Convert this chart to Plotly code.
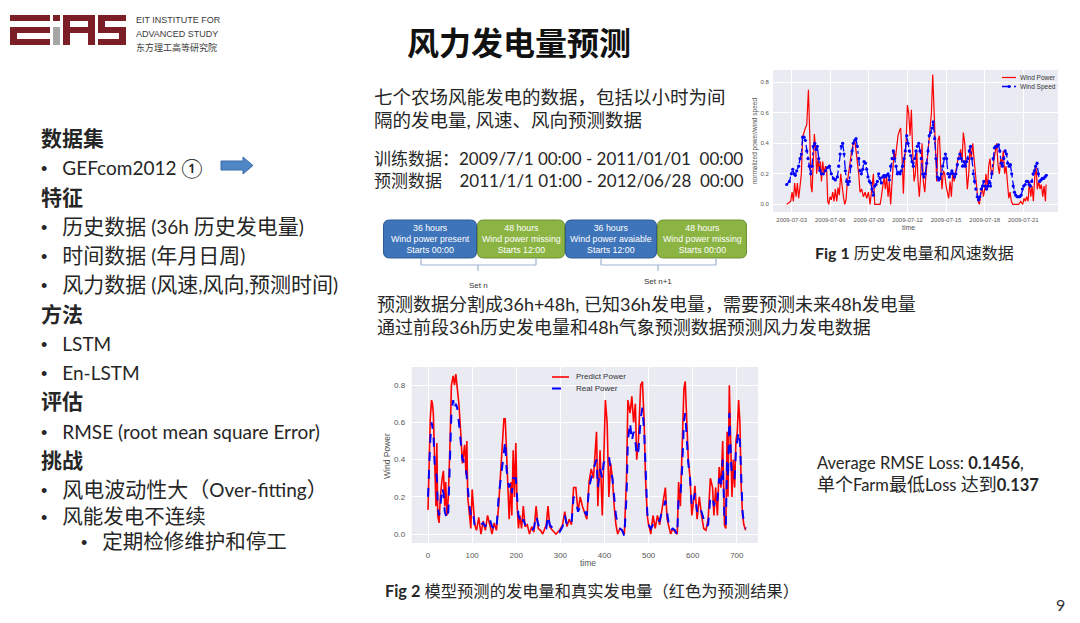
import re
import numpy as np
import pandas as pd
import plotly.graph_objects as go

# figure size (page body has an 8px margin, so the figure is inset by 8px)
OFF = 8
W, H = 1064, 607


def px(x):
    return (x - OFF) / W


def py(y):
    return 1 - (y - OFF) / H


# ---------------- DATA ----------------
# Fig 1: historical wind power / wind speed (day-of-July 2009, value)
power_day = [
    2.61, 2.82, 2.92, 3.03, 3.13, 3.23, 3.34, 3.44, 3.54, 3.65,
    3.75, 3.85, 3.96, 4.06, 4.17, 4.30, 4.42, 4.50, 4.58, 4.68,
    4.76, 4.87, 4.94, 5.05, 5.12, 5.23, 5.31, 5.41, 5.51, 5.62,
    5.72, 5.80, 5.88, 5.98, 6.08, 6.19, 6.29, 6.39, 6.50, 6.60,
    6.70, 6.81, 6.91, 7.02, 7.12, 7.22, 7.33, 7.43, 7.53, 7.66,
    7.79, 7.90, 8.00, 8.10, 8.21, 8.31, 8.44, 8.57, 8.70, 8.83,
    8.96, 9.09, 9.22, 9.35, 9.45, 9.61, 9.74, 9.87, 9.97, 10.07,
    10.18, 10.28, 10.38, 10.49, 10.59, 10.69, 10.85, 10.95, 11.06, 11.16,
    11.26, 11.37, 11.47, 11.58, 11.68, 11.78, 11.89, 11.99, 12.09, 12.20,
    12.30, 12.40, 12.51, 12.61, 12.72, 12.82, 12.92, 13.03, 13.13, 13.23,
    13.34, 13.44, 13.54, 13.65, 13.75, 13.86, 13.96, 14.06, 14.17, 14.27,
    14.37, 14.48, 14.58, 14.68, 14.79, 14.89, 15.00, 15.10, 15.20, 15.31,
    15.41, 15.51, 15.62, 15.72, 15.82, 15.93, 16.03, 16.13, 16.24, 16.34,
    16.45, 16.55, 16.65, 16.76, 16.86, 16.96, 17.07, 17.17, 17.27, 17.38,
    17.48, 17.59, 17.69, 17.79, 17.90, 18.00, 18.10, 18.21, 18.31, 18.41,
    18.52, 18.62, 18.73, 18.83, 18.93, 19.04, 19.14, 19.24, 19.35, 19.45,
    19.55, 19.66, 19.76, 19.87, 19.97, 20.07, 20.18, 20.33, 20.49, 20.64,
    20.80, 20.95, 21.06, 21.16, 21.26, 21.37, 21.47, 21.58, 21.68, 21.78,
    21.89, 21.99, 22.09, 22.20, 22.30, 22.40, 22.51, 22.61, 22.72, 22.77,
]
wind_power = [
    0.00, 0.01, 0.02, 0.08, 0.02, 0.14, 0.05, 0.14, 0.04, 0.12,
    0.20, 0.44, 0.48, 0.50, 0.52, 0.75, 0.40, 0.12, 0.08, 0.30,
    0.46, 0.35, 0.20, 0.30, 0.22, 0.28, 0.15, 0.28, 0.20, 0.25,
    0.22, 0.02, 0.00, 0.05, 0.03, 0.08, 0.02, 0.10, 0.02, 0.11,
    0.06, 0.20, 0.12, 0.05, 0.00, 0.03, 0.15, 0.22, 0.30, 0.35,
    0.40, 0.42, 0.35, 0.28, 0.20, 0.08, 0.10, 0.05, 0.08, 0.04,
    0.08, 0.00, 0.10, 0.20, 0.00, 0.00, 0.00, 0.00, 0.05, 0.12,
    0.18, 0.10, 0.18, 0.05, 0.15, 0.00, 0.22, 0.35, 0.30, 0.38,
    0.45, 0.48, 0.50, 0.30, 0.07, 0.30, 0.40, 0.65, 0.60, 0.45,
    0.62, 0.35, 0.15, 0.20, 0.35, 0.15, 0.05, 0.20, 0.40, 0.15,
    0.08, 0.20, 0.30, 0.42, 0.50, 0.60, 0.85, 0.60, 0.30, 0.15,
    0.42, 0.45, 0.25, 0.10, 0.22, 0.20, 0.12, 0.08, 0.04, 0.15,
    0.05, 0.20, 0.15, 0.20, 0.25, 0.30, 0.32, 0.36, 0.28, 0.47,
    0.40, 0.20, 0.10, 0.20, 0.38, 0.30, 0.40, 0.30, 0.20, 0.10,
    0.02, 0.00, 0.05, 0.12, 0.05, 0.10, 0.20, 0.10, 0.25, 0.30,
    0.20, 0.20, 0.30, 0.35, 0.40, 0.25, 0.20, 0.30, 0.27, 0.35,
    0.20, 0.25, 0.12, 0.04, 0.08, 0.02, 0.00, 0.00, 0.00, 0.00,
    0.02, 0.00, 0.04, 0.02, 0.05, 0.02, 0.15, 0.05, 0.12, 0.02,
    0.18, 0.25, 0.10, 0.15, 0.10, 0.13, 0.05, 0.12, 0.02, 0.13,
]
speed_day = [
    2.61, 2.82, 2.97, 3.08, 3.18, 3.28, 3.39, 3.54, 3.65, 3.75,
    3.85, 3.96, 4.06, 4.17, 4.27, 4.37, 4.48, 4.58, 4.68, 4.79,
    4.89, 4.99, 5.10, 5.20, 5.31, 5.46, 5.62, 5.77, 5.93, 6.08,
    6.24, 6.39, 6.55, 6.65, 6.76, 6.86, 6.96, 7.07, 7.17, 7.27,
    7.38, 7.48, 7.59, 7.69, 7.79, 7.90, 8.00, 8.10, 8.21, 8.31,
    8.41, 8.52, 8.62, 8.73, 8.83, 8.93, 9.04, 9.14, 9.24, 9.35,
    9.45, 9.55, 9.66, 9.76, 9.87, 9.97, 10.07, 10.18, 10.28, 10.38,
    10.49, 10.59, 10.69, 10.80, 10.90, 11.00, 11.11, 11.21, 11.31, 11.42,
    11.52, 11.62, 11.73, 11.83, 11.94, 12.04, 12.14, 12.25, 12.35, 12.45,
    12.56, 12.66, 12.76, 12.87, 12.97, 13.07, 13.18, 13.28, 13.38, 13.49,
    13.59, 13.69, 13.80, 13.90, 14.00, 14.11, 14.21, 14.32, 14.42, 14.52,
    14.63, 14.73, 14.83, 14.94, 15.04, 15.14, 15.25, 15.35, 15.45, 15.56,
    15.66, 15.76, 15.87, 15.97, 16.07, 16.18, 16.28, 16.38, 16.49, 16.59,
    16.69, 16.80, 16.90, 17.00, 17.11, 17.21, 17.31, 17.42, 17.52, 17.62,
    17.73, 17.83, 17.93, 18.04, 18.14, 18.24, 18.35, 18.45, 18.55, 18.66,
    18.76, 18.86, 18.97, 19.07, 19.17, 19.28, 19.38, 19.48, 19.59, 19.69,
    19.79, 19.90, 20.00, 20.10, 20.21, 20.31, 20.41, 20.52, 20.62, 20.72,
    20.83, 20.93, 21.03, 21.14, 21.24, 21.34, 21.45, 21.55, 21.65, 21.76,
    21.86, 21.96, 22.07, 22.17, 22.27, 22.38, 22.48, 22.58, 22.69, 22.79,
]
wind_speed = [
    0.13, 0.15, 0.20, 0.23, 0.20, 0.19, 0.22, 0.25, 0.30, 0.33,
    0.44, 0.44, 0.42, 0.35, 0.30, 0.25, 0.20, 0.25, 0.38, 0.40,
    0.36, 0.38, 0.30, 0.22, 0.20, 0.20, 0.22, 0.24, 0.25, 0.20,
    0.17, 0.16, 0.18, 0.25, 0.33, 0.38, 0.40, 0.33, 0.22, 0.15,
    0.13, 0.15, 0.25, 0.35, 0.40, 0.42, 0.43, 0.38, 0.30, 0.22,
    0.20, 0.23, 0.28, 0.27, 0.23, 0.18, 0.15, 0.14, 0.10, 0.06,
    0.12, 0.13, 0.15, 0.20, 0.17, 0.14, 0.18, 0.19, 0.18, 0.19,
    0.20, 0.16, 0.25, 0.30, 0.35, 0.30, 0.25, 0.20, 0.21, 0.20,
    0.22, 0.25, 0.30, 0.35, 0.45, 0.40, 0.35, 0.32, 0.28, 0.25,
    0.30, 0.35, 0.38, 0.40, 0.35, 0.30, 0.20, 0.18, 0.20, 0.27,
    0.35, 0.45, 0.47, 0.50, 0.54, 0.43, 0.30, 0.18, 0.16, 0.17,
    0.20, 0.25, 0.30, 0.33, 0.30, 0.20, 0.18, 0.20, 0.22, 0.20,
    0.18, 0.20, 0.26, 0.30, 0.33, 0.30, 0.25, 0.28, 0.25, 0.28,
    0.30, 0.35, 0.38, 0.30, 0.20, 0.15, 0.10, 0.05, 0.03, 0.05,
    0.10, 0.12, 0.15, 0.12, 0.10, 0.12, 0.15, 0.12, 0.20, 0.30,
    0.37, 0.38, 0.38, 0.39, 0.35, 0.27, 0.25, 0.30, 0.35, 0.33,
    0.27, 0.25, 0.26, 0.20, 0.12, 0.08, 0.06, 0.05, 0.05, 0.05,
    0.06, 0.10, 0.12, 0.13, 0.15, 0.15, 0.13, 0.12, 0.15, 0.20,
    0.22, 0.25, 0.27, 0.20, 0.15, 0.16, 0.17, 0.17, 0.18, 0.19,
]

# Fig 2: predicted vs real power (time step, value)
step_t = [
    0, 3, 5, 8, 10, 12, 15, 18, 20, 22,
    25, 28, 32, 35, 38, 40, 43, 46, 50, 53,
    57, 60, 63, 66, 70, 74, 78, 80, 83, 86,
    88, 90, 94, 97, 100, 103, 106, 110, 115, 120,
    125, 130, 135, 140, 145, 150, 155, 160, 165, 168,
    172, 175, 178, 181, 184, 188, 190, 193, 196, 199,
    202, 205, 208, 212, 216, 220, 225, 230, 235, 240,
    245, 250, 255, 260, 268, 272, 276, 282, 290, 298,
    305, 310, 315, 320, 325, 330, 335, 340, 345, 350,
    355, 360, 365, 370, 375, 382, 385, 390, 395, 398,
    402, 406, 410, 414, 418, 422, 426, 430, 435, 440,
    445, 450, 453, 458, 462, 466, 470, 473, 477, 482,
    486, 490, 493, 497, 500, 505, 510, 515, 520, 525,
    530, 535, 538, 542, 546, 550, 555, 560, 565, 568,
    572, 576, 580, 583, 587, 590, 594, 598, 602, 605,
    610, 615, 620, 625, 630, 635, 640, 645, 648, 652,
    656, 660, 664, 668, 672, 675, 678, 680, 683, 686,
    689, 692, 695, 698, 701, 704, 707, 710, 713, 716,
    720,
]
predict_power = [
    0.13, 0.45, 0.62, 0.72, 0.70, 0.65, 0.40, 0.15, 0.49, 0.10,
    0.06, 0.20, 0.30, 0.34, 0.15, 0.28, 0.10, 0.20, 0.50, 0.80,
    0.85, 0.80, 0.86, 0.80, 0.70, 0.55, 0.38, 0.42, 0.48, 0.32,
    0.50, 0.20, 0.10, 0.03, 0.24, 0.15, 0.05, 0.02, 0.09, 0.00,
    0.07, 0.02, 0.10, 0.05, 0.00, 0.06, 0.02, 0.15, 0.35, 0.42,
    0.62, 0.62, 0.40, 0.28, 0.08, 0.28, 0.10, 0.45, 0.20, 0.49,
    0.15, 0.03, 0.10, 0.03, 0.15, 0.04, 0.05, 0.00, 0.04, 0.01,
    0.15, 0.03, 0.02, 0.00, 0.05, 0.15, 0.04, 0.02, 0.00, 0.02,
    0.05, 0.12, 0.04, 0.08, 0.05, 0.25, 0.25, 0.12, 0.20, 0.15,
    0.12, 0.08, 0.28, 0.35, 0.30, 0.55, 0.15, 0.45, 0.10, 0.38,
    0.72, 0.60, 0.20, 0.38, 0.30, 0.15, 0.05, 0.00, 0.03, 0.02,
    0.00, 0.30, 0.72, 0.65, 0.74, 0.60, 0.70, 0.40, 0.50, 0.80,
    0.82, 0.60, 0.30, 0.10, 0.05, 0.00, 0.10, 0.03, 0.10, 0.05,
    0.13, 0.20, 0.25, 0.08, 0.03, 0.00, 0.03, 0.01, 0.00, 0.28,
    0.15, 0.50, 0.78, 0.82, 0.60, 0.40, 0.30, 0.10, 0.18, 0.26,
    0.08, 0.20, 0.10, 0.03, 0.02, 0.08, 0.30, 0.25, 0.10, 0.25,
    0.10, 0.36, 0.25, 0.50, 0.05, 0.03, 0.55, 0.20, 0.80, 0.50,
    0.20, 0.40, 0.25, 0.50, 0.55, 0.72, 0.60, 0.25, 0.10, 0.05,
    0.02,
]
real_power = [
    0.20, 0.40, 0.50, 0.60, 0.58, 0.55, 0.38, 0.35, 0.30, 0.15,
    0.10, 0.15, 0.25, 0.22, 0.12, 0.10, 0.08, 0.12, 0.40, 0.65,
    0.72, 0.67, 0.70, 0.68, 0.60, 0.50, 0.40, 0.40, 0.35, 0.35,
    0.30, 0.22, 0.15, 0.10, 0.12, 0.10, 0.04, 0.05, 0.05, 0.05,
    0.06, 0.04, 0.08, 0.08, 0.04, 0.03, 0.02, 0.20, 0.30, 0.35,
    0.45, 0.50, 0.35, 0.28, 0.25, 0.28, 0.22, 0.30, 0.30, 0.30,
    0.20, 0.10, 0.08, 0.05, 0.08, 0.05, 0.04, 0.02, 0.02, 0.03,
    0.10, 0.05, 0.03, 0.02, 0.03, 0.10, 0.05, 0.03, 0.01, 0.01,
    0.04, 0.10, 0.05, 0.06, 0.05, 0.20, 0.18, 0.12, 0.15, 0.13,
    0.12, 0.10, 0.25, 0.30, 0.35, 0.40, 0.25, 0.35, 0.30, 0.38,
    0.40, 0.40, 0.42, 0.35, 0.30, 0.20, 0.10, 0.05, 0.03, 0.02,
    -0.01, 0.20, 0.50, 0.60, 0.50, 0.55, 0.50, 0.42, 0.45, 0.62,
    0.68, 0.55, 0.35, 0.12, 0.05, 0.03, 0.05, 0.05, 0.08, 0.07,
    0.12, 0.15, 0.18, 0.10, 0.05, 0.02, 0.03, 0.02, -0.005, 0.20,
    0.20, 0.35, 0.60, 0.65, 0.50, 0.38, 0.30, 0.15, 0.18, 0.22,
    0.12, 0.15, 0.12, 0.08, 0.04, 0.05, 0.20, 0.20, 0.15, 0.20,
    0.18, 0.30, 0.25, 0.40, 0.08, 0.05, 0.40, 0.30, 0.65, 0.45,
    0.30, 0.30, 0.30, 0.45, 0.52, 0.55, 0.50, 0.25, 0.12, 0.06,
    0.03,
]

fig1_ticks = ["2009-07-03", "2009-07-06", "2009-07-09", "2009-07-12",
              "2009-07-15", "2009-07-18", "2009-07-21"]
fig2_ticks = [0, 100, 200, 300, 400, 500, 600, 700]
value_ticks = [0.0, 0.2, 0.4, 0.6, 0.8]

assert len(power_day) == len(wind_power)
assert len(speed_day) == len(wind_speed)
assert len(step_t) == len(predict_power) == len(real_power)

base = pd.Timestamp("2009-07-01")
power_time = base + pd.to_timedelta(np.array(power_day) - 1, unit="D")
speed_time = base + pd.to_timedelta(np.array(speed_day) - 1, unit="D")

# ---------------- FIGURE ----------------
MPL_FONT = "Liberation Sans"
CJK = "Lato, Noto Sans CJK SC"
TXT = "#262626"
TICK = "#555555"

fig = go.Figure()
fig.add_trace(go.Scatter(x=power_time, y=wind_power, mode="lines", name="Wind Power",
                         line=dict(color="#ff0000", width=1.2), xaxis="x", yaxis="y"))
fig.add_trace(go.Scatter(x=speed_time, y=wind_speed, mode="lines+markers", name="Wind Speed",
                         line=dict(color="#0000ff", width=1.3, dash="dashdot"),
                         marker=dict(size=3.2, color="#0000ff"), xaxis="x", yaxis="y"))
fig.add_trace(go.Scatter(x=step_t, y=predict_power, mode="lines", name="Predict Power",
                         line=dict(color="#ff0000", width=1.6), xaxis="x2", yaxis="y2"))
fig.add_trace(go.Scatter(x=step_t, y=real_power, mode="lines", name="Real Power",
                         line=dict(color="#0000ff", width=2, dash="dash"), xaxis="x2", yaxis="y2"))

axis_common = dict(showgrid=True, gridcolor="white", gridwidth=1, zeroline=False,
                   showline=False, ticks="outside", tickcolor="rgba(0,0,0,0)",
                   automargin=False)

fig.update_layout(
    width=W, height=H, margin=dict(l=0, r=0, t=0, b=0),
    paper_bgcolor="white", plot_bgcolor="#EAEAF2", template="none",
    showlegend=False,
    xaxis=dict(domain=[px(773), px(1058)], anchor="y", type="date",
               range=["2009-07-01 13:07", "2009-07-23 16:42"],
               tickvals=fig1_ticks, ticktext=fig1_ticks,
               tickfont=dict(family=MPL_FONT, size=6, color=TICK), ticklen=2, **axis_common),
    yaxis=dict(domain=[py(212), py(70)], anchor="x", range=[-0.05, 0.88],
               tickvals=value_ticks, tickformat=".1f",
               tickfont=dict(family=MPL_FONT, size=6, color=TICK), ticklen=2, **axis_common),
    xaxis2=dict(domain=[px(411.7), px(758)], anchor="y2", range=[-37, 748],
                tickvals=fig2_ticks,
                tickfont=dict(family=MPL_FONT, size=8, color=TICK), ticklen=4, **axis_common),
    yaxis2=dict(domain=[py(543), py(367)], anchor="x2", range=[-0.048, 0.898],
                tickvals=value_ticks, tickformat=".1f",
                tickfont=dict(family=MPL_FONT, size=8, color=TICK), ticklen=4, **axis_common),
)

ann = []
shapes = []


def text(x, y, s, size, color=TXT, family=CJK, xanchor="left", yanchor="middle", angle=0,
         align="left"):
    ann.append(dict(x=px(x), y=py(y), xref="paper", yref="paper", text=s, showarrow=False,
                    xanchor=xanchor, yanchor=yanchor, textangle=angle, align=align,
                    borderpad=0, font=dict(family=family, size=size, color=color)))


def sp(s, size, family=None):
    st = f"font-size:{size}px"
    if family:
        st += f";font-family:{family}"
    return f'<span style="{st}">{s}</span>'


def mixed(s, cjk_px, lat_px):
    # CJK runs at cjk_px, ASCII runs at lat_px
    out = []
    for run in re.findall(r"[\x00-\x7f①]+|[^\x00-\x7f①]+", s):
        size = lat_px if re.match(r"[\x00-\x7f①]", run) else cjk_px
        out.append(sp(run, size))
    return "".join(out)


BUL = sp("•\u00a0\u00a0\u00a0", 18, "Liberation Sans")


def multiline(x, y_first, y_last, lines, size, color=TXT, family=CJK, xanchor="left"):
    n = len(lines)
    spacing = (y_last - y_first) / (n - 1)
    base_size = spacing / 1.3
    text(x, (y_first + y_last) / 2, "<br>".join(lines), base_size, color, family, xanchor,
         align=xanchor if xanchor != "center" else "center")


# axis titles
text(755, 141, "normalized power/wind speed", 6.5, TICK, MPL_FONT, "center", "middle", -90)
text(908, 227, "time", 7, TICK, MPL_FONT, "center", "middle")
text(387, 456, "Wind Power", 8.5, TICK, MPL_FONT, "center", "middle", -90)
text(588, 563, "time", 8.5, TICK, MPL_FONT, "center", "middle")

# manual legends
shapes.append(dict(type="line", xref="paper", yref="paper", x0=px(1002), x1=px(1016),
                   y0=py(77.5), y1=py(77.5), line=dict(color="#ff0000", width=1.2)))
shapes.append(dict(type="line", xref="paper", yref="paper", x0=px(1002), x1=px(1016),
                   y0=py(86.5), y1=py(86.5), line=dict(color="#0000ff", width=1.3, dash="dashdot")))
shapes.append(dict(type="circle", xref="paper", yref="paper", x0=px(1007.5), x1=px(1010.5),
                   y0=py(88), y1=py(85), fillcolor="#0000ff", line=dict(width=0)))
multiline(1019, 77.5, 86.5, [sp("Wind Power", 6.5), sp("Wind Speed", 6.5)], 6.5, "#333333",
          MPL_FONT)
shapes.append(dict(type="line", xref="paper", yref="paper", x0=px(552), x1=px(569),
                   y0=py(377), y1=py(377), line=dict(color="#ff0000", width=1.6)))
shapes.append(dict(type="line", xref="paper", yref="paper", x0=px(552), x1=px(569),
                   y0=py(388.5), y1=py(388.5), line=dict(color="#0000ff", width=2, dash="dash")))
multiline(575, 377, 388.5, [sp("Predict Power", 8), sp("Real Power", 8)], 8, "#333333", MPL_FONT)

# logo text
text(135, 20, "EIT INSTITUTE FOR", 9, "#3a3a3a", "Liberation Sans")
text(135, 34, "ADVANCED STUDY", 9, "#3a3a3a", "Liberation Sans")
text(135, 48, "东方理工高等研究院", 9, "#3a3a3a", CJK)

# title
text(519, 42, "<b>风力发电量预测</b>", 32, "#111111", CJK, "center")

# left column
HDR = 21
LAT = 19
left_lines = [
    ("h", "数据集"), ("b", "GEFcom2012 ①"), ("h", "特征"), ("b", "历史数据 (36h 历史发电量)"),
    ("b", "时间数据 (年月日周)"), ("b", "风力数据 (风速,风向,预测时间)"), ("h", "方法"),
    ("b", "LSTM"), ("b", "En-LSTM"), ("h", "评估"), ("b", "RMSE (root mean square Error)"),
    ("h", "挑战"), ("b", "风电波动性大（Over-fitting）"),
]
rendered = []
for kind, s in left_lines:
    if kind == "h":
        rendered.append("<b>" + sp(s, HDR) + "</b>")
    else:
        rendered.append(BUL + mixed(s, HDR, LAT))
multiline(40, 137, 488, rendered, 20)
tail = [BUL + mixed("风能发电不连续", 20.5, LAT),
        sp("\u00a0" * 8, 18, "Liberation Sans") + BUL + mixed("定期检修维护和停工", 20.5, LAT)]
multiline(40, 516, 541, tail, 20)

# arrow next to GEFcom2012
arrow_pts = [(221, 161), (243, 161), (243, 157), (253, 165.5), (243, 174), (243, 170), (221, 170)]
arrow_path = "M " + " L ".join(f"{px(a):.5f},{py(b):.5f}" for a, b in arrow_pts) + " Z"
shapes.append(dict(type="path", xref="paper", yref="paper", path=arrow_path,
                   fillcolor="#4F86C6", line=dict(color="#3C6DA8", width=1)))

# middle text blocks
multiline(373, 97, 120, [sp("七个农场风能发电的数据，包括以小时为间", 18.5),
                         sp("隔的发电量, 风速、风向预测数据", 18.5)], 18.5)
multiline(373, 158, 180, [sp("训练数据：2009/7/1 00:00 - 2011/01/01\u00a0\u00a000:00", 17),
                          sp("预测数据\u00a0\u00a0\u00a0 2011/1/1 01:00 - 2012/06/28\u00a0\u00a000:00", 17)], 17)
multiline(376, 304, 327, [sp("预测数据分割成36h+48h, 已知36h发电量，需要预测未来48h发电量", 18),
                          sp("通过前段36h历史发电量和48h气象预测数据预测风力发电数据", 18)], 18)

# captions and result text
text(915, 252, "<b>Fig 1</b> 历史发电量和风速数据", 16, TXT, CJK, "center")
text(384, 590, "<b>Fig 2</b> 模型预测的发电量和真实发电量（红色为预测结果）", 16.3)
multiline(816, 463, 485, [sp("Average RMSE Loss: <b>0.1456</b>,", 16.5),
                          sp("单个", 18) + sp("Farm", 16.5) + sp("最低", 18)
                          + sp("Loss ", 16.5) + sp("达到", 18) + sp("<b>0.137</b>", 16.5)], 16)
text(1060, 604, "9", 16, "#333333", CJK, "center")

# diagram boxes
boxes = [
    (383, 477, "#3E74BA", "#2E5A94", ["36 hours", "Wind power present", "Starts 00:00"]),
    (477, 565, "#8CB443", "#6E9233", ["48 hours", "Wind power missing", "Starts 12:00"]),
    (565, 657, "#3E74BA", "#2E5A94", ["36 hours", "Wind power avaiable", "Starts 12:00"]),
    (657, 747, "#8CB443", "#6E9233", ["48 hours", "Wind power missing", "Starts 00:00"]),
]


def rrect(x0, y0, x1, y1, r):
    pts = [("M", [(x0 + r, y0)]), ("L", [(x1 - r, y0)]), ("Q", [(x1, y0), (x1, y0 + r)]),
           ("L", [(x1, y1 - r)]), ("Q", [(x1, y1), (x1 - r, y1)]), ("L", [(x0 + r, y1)]),
           ("Q", [(x0, y1), (x0, y1 - r)]), ("L", [(x0, y0 + r)]), ("Q", [(x0, y0), (x0 + r, y0)])]
    s = ""
    for cmd, ps in pts:
        s += cmd + " " + " ".join(f"{px(a):.5f},{py(b):.5f}" for a, b in ps) + " "
    return s + "Z"


for x0, x1, fill, line, label in boxes:
    shapes.append(dict(type="path", xref="paper", yref="paper",
                       path=rrect(x0 + 0.5, 220, x1 - 0.5, 258, 6),
                       fillcolor=fill, line=dict(color=line, width=1)))
    multiline((x0 + x1) / 2, 228.5, 250, [sp(s, 8.8) for s in label], 8.8, "white",
              "Liberation Sans", "center")

# brackets
BR = "#9DB3D3"
for xa, xb, xc, lbl, ly in [(421, 536, 478, "Set n", 285), (601, 716, 658, "Set n+1", 281)]:
    for (a0, b0, a1, b1) in [(xa, 265, xb, 265), (xa, 259, xa, 265), (xb, 259, xb, 265),
                             (xc, 265, xc, 271)]:
        shapes.append(dict(type="line", xref="paper", yref="paper", x0=px(a0), x1=px(a1),
                           y0=py(b0), y1=py(b1), line=dict(color=BR, width=1.2)))
    text(xc, ly, lbl, 8, "#333333", "Liberation Sans", "center")

# logo blocks
LOGO = "#7B1E26"
logo_rects = [
    (10, 15, 50, 21), (10, 27, 50, 33), (10, 39, 50, 45), (10, 27, 17, 45),   # E
    (53, 15, 60, 21),                                                         # i dot
    (63, 15, 95, 21), (63, 15, 70, 45), (88, 15, 95, 45), (70, 27, 88, 33),   # A
    (98, 15, 126, 21), (98, 15, 105, 33), (98, 27, 126, 33), (119, 27, 126, 45),
    (98, 39, 126, 45),                                                        # S
]
for x0, y0, x1, y1 in logo_rects:
    shapes.append(dict(type="rect", xref="paper", yref="paper", x0=px(x0), x1=px(x1),
                       y0=py(y1), y1=py(y0), fillcolor=LOGO, line=dict(width=0)))
shapes.append(dict(type="rect", xref="paper", yref="paper", x0=px(53), x1=px(60),
                   y0=py(45), y1=py(27), fillcolor="#A6A6A6", line=dict(width=0)))

fig.update_layout(annotations=ann, shapes=shapes)
fig.write_html("out.html")
